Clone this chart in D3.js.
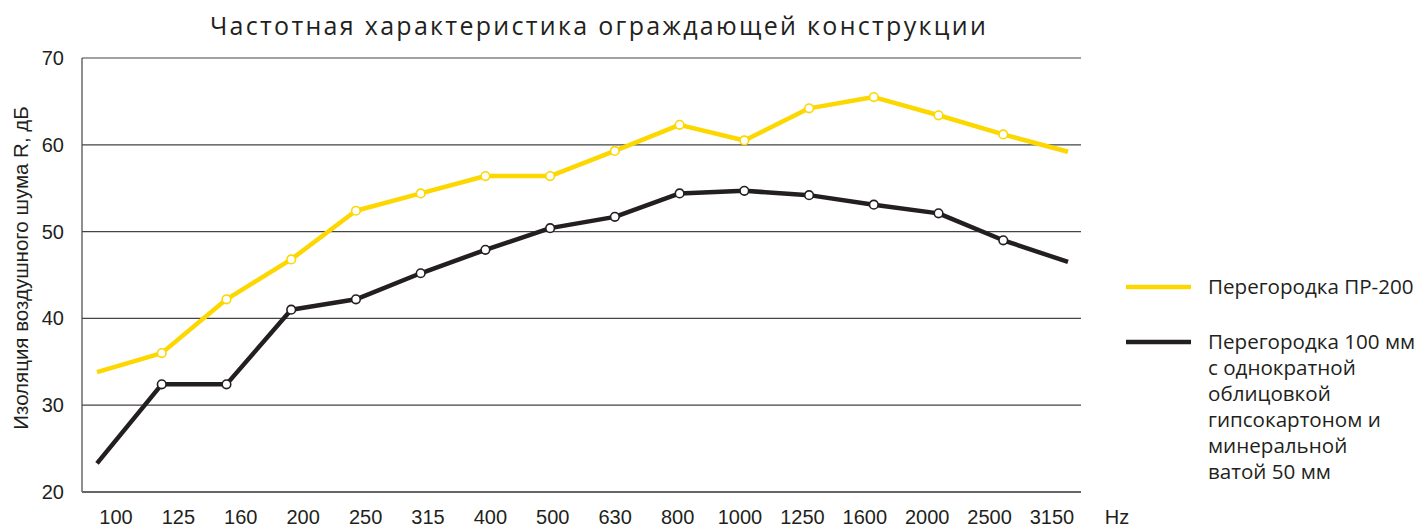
<!DOCTYPE html>
<html>
<head>
<meta charset="utf-8">
<script src="https://cdn.jsdelivr.net/npm/d3@7"></script>
<style>
  body { margin: 0; background: #fff; }
  svg { display: block; }
</style>
</head>
<body>
<div id="chart"></div>
<script>
// frequency bands (Hz)
var freqs = ["100", "125", "160", "200", "250", "315", "400", "500", "630", "800", "1000", "1250", "1600", "2000", "2500", "3150"];

// sound insulation R, dB
var pr200 = [33.8, 36.0, 42.2, 46.8, 52.4, 54.4, 56.4, 56.4, 59.3, 62.3, 60.5, 64.2, 65.5, 63.4, 61.2, 59.2];
var wall100 = [23.3, 32.4, 32.4, 41.0, 42.2, 45.2, 47.9, 50.4, 51.7, 54.4, 54.7, 54.2, 53.1, 52.1, 49.0, 46.5];

var yTicks = [20, 30, 40, 50, 60, 70];

var legendNames = ["Перегородка ПР-200",
  "Перегородка 100 мм|с однократной|облицовкой|гипсокартоном и|минеральной|ватой 50 мм"];

var yellow = "#fcd700", black = "#231f20";

var W = 1424, H = 526;
var svg = d3.select("#chart").append("svg")
    .attr("width", W)
    .attr("height", H);

// plot box
var plotL = 82, plotR = 1081, plotT = 58, plotB = 492;

var y = d3.scaleLinear().domain([20, 70]).range([plotB, plotT]);

// points sit a bit off the labels in the original
var xPts = d3.scalePoint().domain(freqs).range([97, 1068]);
var xLab = d3.scalePoint().domain(freqs).range([116, 1052]);

// title
svg.append("text")
    .attr("x", 599).attr("y", 35)
    .attr("text-anchor", "middle")
    .style("font-family", "'Open Sans', sans-serif")
    .style("font-size", "25px")
    .style("letter-spacing", "2.3px")
    .attr("fill", "#231f20")
    .text("Частотная характеристика ограждающей конструкции");

// grid lines
svg.append("g").selectAll("line")
  .data(yTicks.slice(1))
  .join("line")
    .attr("x1", plotL).attr("x2", plotR)
    .attr("y1", d => y(d)).attr("y2", d => y(d))
    .attr("stroke", "#444").attr("stroke-width", 1.2);

// axis lines
svg.append("line")
    .attr("x1", plotL).attr("x2", plotL).attr("y1", plotT).attr("y2", plotB)
    .attr("stroke", "#444").attr("stroke-width", 1.2);
svg.append("line")
    .attr("x1", plotL).attr("x2", plotR).attr("y1", plotB).attr("y2", plotB)
    .attr("stroke", "#666").attr("stroke-width", 2);

// y tick labels
svg.append("g").selectAll("text")
  .data(yTicks)
  .join("text")
    .attr("x", 64).attr("y", d => y(d) + 7)
    .attr("text-anchor", "end")
    .style("font-family", "'Liberation Sans', Arial, sans-serif")
    .style("font-size", "20px")
    .attr("fill", "#231f20")
    .text(d => d);

// y title
svg.append("text")
    .attr("transform", "translate(28,268) rotate(-90)")
    .attr("text-anchor", "middle")
    .style("font-family", "'Liberation Sans', Arial, sans-serif")
    .style("font-size", "20.5px")
    .attr("fill", "#231f20")
    .text("Изоляция воздушного шума R, дБ");

// x tick labels
svg.append("g").selectAll("text")
  .data(freqs)
  .join("text")
    .attr("x", d => xLab(d)).attr("y", 524)
    .attr("text-anchor", "middle")
    .style("font-family", "'Liberation Sans', Arial, sans-serif")
    .style("font-size", "20px")
    .attr("fill", "#231f20")
    .text(d => d);

svg.append("text")
    .attr("x", 1117).attr("y", 524)
    .attr("text-anchor", "middle")
    .style("font-family", "'Liberation Sans', Arial, sans-serif")
    .style("font-size", "20px")
    .attr("fill", "#231f20")
    .text("Hz");

// lines + markers
var line = d3.line()
    .x((d, i) => xPts(freqs[i]))
    .y(d => y(d));

function drawSeries(vals, color) {
  svg.append("path")
      .datum(vals)
      .attr("fill", "none")
      .attr("stroke", color)
      .attr("stroke-width", 4.5)
      .attr("stroke-linejoin", "round")
      .attr("d", line);

  // no marker on first and last point
  var inner = vals.map((v, i) => ({f: freqs[i], v: v})).slice(1, -1);
  svg.append("g").selectAll("circle")
    .data(inner)
    .join("circle")
      .attr("cx", d => xPts(d.f))
      .attr("cy", d => y(d.v))
      .attr("r", 4.3)
      .attr("fill", "#fff")
      .attr("stroke", color)
      .attr("stroke-width", 1.6);
}

drawSeries(pr200, yellow);
drawSeries(wall100, black);

// legend
var legend = [
  {name: legendNames[0], color: yellow, y: 287},
  {name: legendNames[1], color: black, y: 342}
];

legend.forEach(function(l) {
  svg.append("line")
      .attr("x1", 1126).attr("x2", 1191)
      .attr("y1", l.y).attr("y2", l.y)
      .attr("stroke", l.color).attr("stroke-width", 4.5);

  var t = svg.append("text")
      .attr("x", 1208).attr("y", l.y + 7)
      .style("font-family", "'Open Sans', sans-serif")
      .style("font-size", "20.6px")
      .attr("fill", "#231f20");
  l.name.split("|").forEach(function(s, i) {
    t.append("tspan")
      .attr("x", 1208)
      .attr("dy", i === 0 ? 0 : 26)
      .text(s);
  });
});
</script>
</body>
</html>
